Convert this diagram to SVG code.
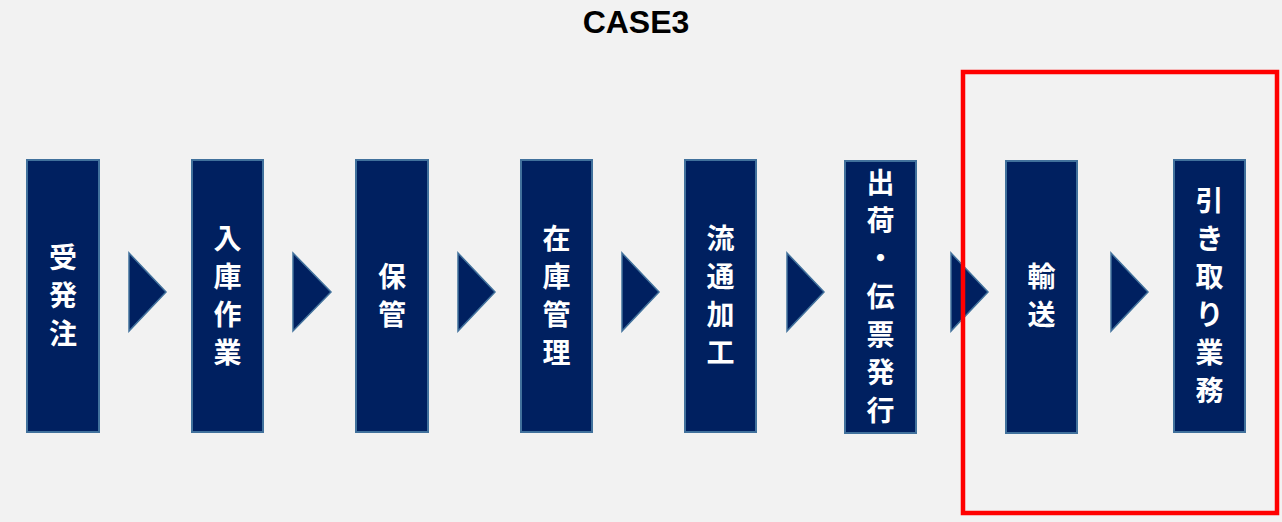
<svg xmlns="http://www.w3.org/2000/svg" width="1282" height="522" viewBox="0 0 1282 522">
<style>
.box{fill:#002060;stroke:#41719C;stroke-width:2}
.arr{fill:#002060;stroke:#41719C;stroke-width:1.5;stroke-linejoin:miter}
.lbl{font-family:"Noto Sans CJK JP","Noto Sans",sans-serif;font-weight:bold;font-size:28px;fill:#FFFFFF;text-anchor:middle}
.title{font-family:"Liberation Sans","Noto Sans",sans-serif;font-weight:bold;font-size:32px;fill:#000000;text-anchor:middle}
</style>
<rect x="0" y="0" width="1282" height="522" fill="#F2F2F2"/>
<text class="title" x="636" y="33">CASE3</text>
<g id="n1"><rect class="box" x="27" y="160" width="72" height="272"/>
<text class="lbl" x="63"><tspan x="63" y="268">受</tspan><tspan x="63" y="306">発</tspan><tspan x="63" y="344">注</tspan></text></g>
<g id="n2"><rect class="box" x="192" y="160" width="71" height="272"/>
<text class="lbl"><tspan x="227.5" y="249">入</tspan><tspan x="227.5" y="287">庫</tspan><tspan x="227.5" y="325">作</tspan><tspan x="227.5" y="363">業</tspan></text></g>
<g id="n3"><rect class="box" x="356" y="160" width="72" height="272"/>
<text class="lbl"><tspan x="392" y="287">保</tspan><tspan x="392" y="325">管</tspan></text></g>
<g id="n4"><rect class="box" x="521" y="160" width="71" height="272"/>
<text class="lbl"><tspan x="556.5" y="249">在</tspan><tspan x="556.5" y="287">庫</tspan><tspan x="556.5" y="325">管</tspan><tspan x="556.5" y="363">理</tspan></text></g>
<g id="n5"><rect class="box" x="685" y="160" width="71" height="272"/>
<text class="lbl"><tspan x="720.5" y="249">流</tspan><tspan x="720.5" y="287">通</tspan><tspan x="720.5" y="325">加</tspan><tspan x="720.5" y="363">工</tspan></text></g>
<g id="n6"><rect class="box" x="845" y="161" width="71" height="272"/>
<text class="lbl"><tspan x="880.5" y="193">出</tspan><tspan x="880.5" y="231">荷</tspan><tspan x="880.5" y="269">・</tspan><tspan x="880.5" y="307">伝</tspan><tspan x="880.5" y="345">票</tspan><tspan x="880.5" y="383">発</tspan><tspan x="880.5" y="421">行</tspan></text></g>
<g id="n7"><rect class="box" x="1006" y="161" width="71" height="272"/>
<text class="lbl"><tspan x="1041.5" y="287">輸</tspan><tspan x="1041.5" y="325">送</tspan></text></g>
<g id="n8"><rect class="box" x="1174" y="160" width="71" height="272"/>
<text class="lbl"><tspan x="1209.5" y="211">引</tspan><tspan x="1209.5" y="249">き</tspan><tspan x="1209.5" y="287">取</tspan><tspan x="1209.5" y="325">り</tspan><tspan x="1209.5" y="363">業</tspan><tspan x="1209.5" y="401">務</tspan></text></g>
<g id="connectors">
<polygon class="arr" points="129,253 166,292 129,331"/>
<polygon class="arr" points="293,253 331,292 293,331"/>
<polygon class="arr" points="458,253 495,292 458,331"/>
<polygon class="arr" points="622,253 659,292 622,331"/>
<polygon class="arr" points="787,253 824,292 787,331"/>
<polygon class="arr" points="951,253 988,292 951,331"/>
<polygon class="arr" points="1111,253 1148,292 1111,331"/>
</g>
<rect id="highlight" x="963" y="72" width="314" height="441" fill="none" stroke="#FF0000" stroke-width="4.5"/>
</svg>
